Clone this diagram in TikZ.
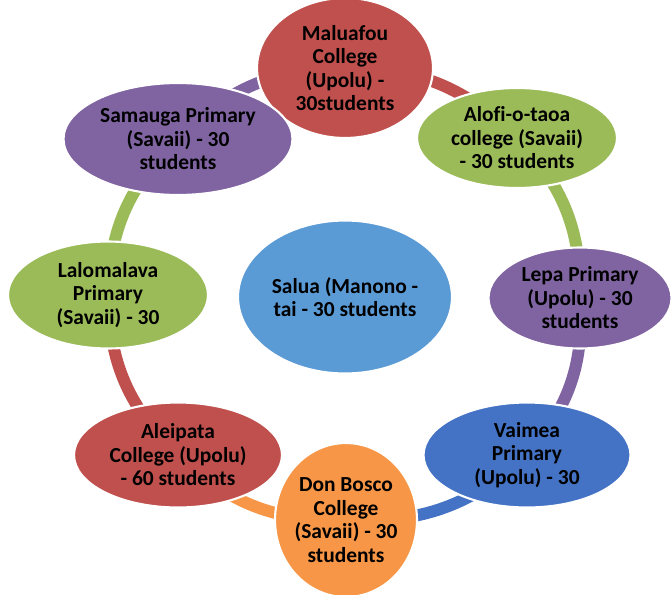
\documentclass[tikz,border=0pt]{standalone}
\usepackage{fontspec}
\setmainfont{Carlito}[Ligatures=NoCommon]
\usetikzlibrary{shapes.geometric}
\pgfdeclarelayer{background}
\pgfsetlayers{background,main}
\definecolor{cred}{HTML}{C0504D}
\definecolor{cgreen}{HTML}{9BBB59}
\definecolor{cpurple}{HTML}{8064A2}
\definecolor{cblue}{HTML}{4472C4}
\definecolor{corange}{HTML}{F79646}
\definecolor{clight}{HTML}{5B9BD5}
\tikzset{
  school/.style={ellipse, draw=white, line width=1.2pt, inner sep=-20pt, align=center,
    font=\bfseries\fontsize{12.2}{13.4}\selectfont, text=black},
  ring/.style={line width=6.8pt}
}
\begin{document}
\begin{tikzpicture}[x=0.02cm, y=-0.02cm]
  \useasboundingbox (0,0) rectangle (671,594);

  \node[school, fill=cred, minimum width=3.52cm, minimum height=2.8cm] (mal) at (345,68) {Maluafou\\College\\(Upolu) -\\30students};
  \node[school, fill=cgreen, minimum width=4.0cm, minimum height=2.0cm] (alo) at (517,138) {Alofi-o-taoa\\college (Savaii)\\- 30 students};
  \node[school, fill=cpurple, minimum width=3.66cm, minimum height=2.02cm] (lep) at (580,298) {Lepa Primary\\(Upolu) - 30\\students};
  \node[school, fill=cblue, minimum width=4.14cm, minimum height=2.1cm] (vai) at (527,455) {Vaimea\\Primary\\(Upolu) - 30};
  \node[school, fill=corange, minimum width=2.84cm, minimum height=3.08cm] (don) at (346,520) {Don Bosco\\College\\(Savaii) - 30\\students};
  \node[school, fill=cred, minimum width=4.16cm, minimum height=2.1cm] (ale) at (178,455) {Aleipata\\College (Upolu)\\- 60 students};
  \node[school, fill=cgreen, minimum width=4.0cm, minimum height=2.14cm] (lal) at (108,295) {Lalomalava\\Primary\\(Savaii) - 30};
  \node[school, fill=cpurple, minimum width=4.58cm, minimum height=2.24cm] (sam) at (178,139) {Samauga Primary\\(Savaii) - 30\\students};
  \node[school, fill=clight, minimum width=4.28cm, minimum height=3.06cm] (sal) at (345,297) {Salua (Manono -\\tai - 30 students};

  \begin{pgfonlayer}{background}
    \draw[ring, cred] (mal.center) to[bend left=22.5] (alo.center);
    \draw[ring, cgreen] (alo.center) to[bend left=22.5] (lep.center);
    \draw[ring, cpurple] (lep.center) to[bend left=22.5] (vai.center);
    \draw[ring, cblue] (vai.center) to[bend left=22.5] (don.center);
    \draw[ring, corange] (don.center) to[bend left=22.5] (ale.center);
    \draw[ring, cred] (ale.center) to[bend left=22.5] (lal.center);
    \draw[ring, cgreen] (lal.center) to[bend left=22.5] (sam.center);
    \draw[ring, cpurple] (sam.center) to[bend left=22.5] (mal.center);
  \end{pgfonlayer}
\end{tikzpicture}
\end{document}
